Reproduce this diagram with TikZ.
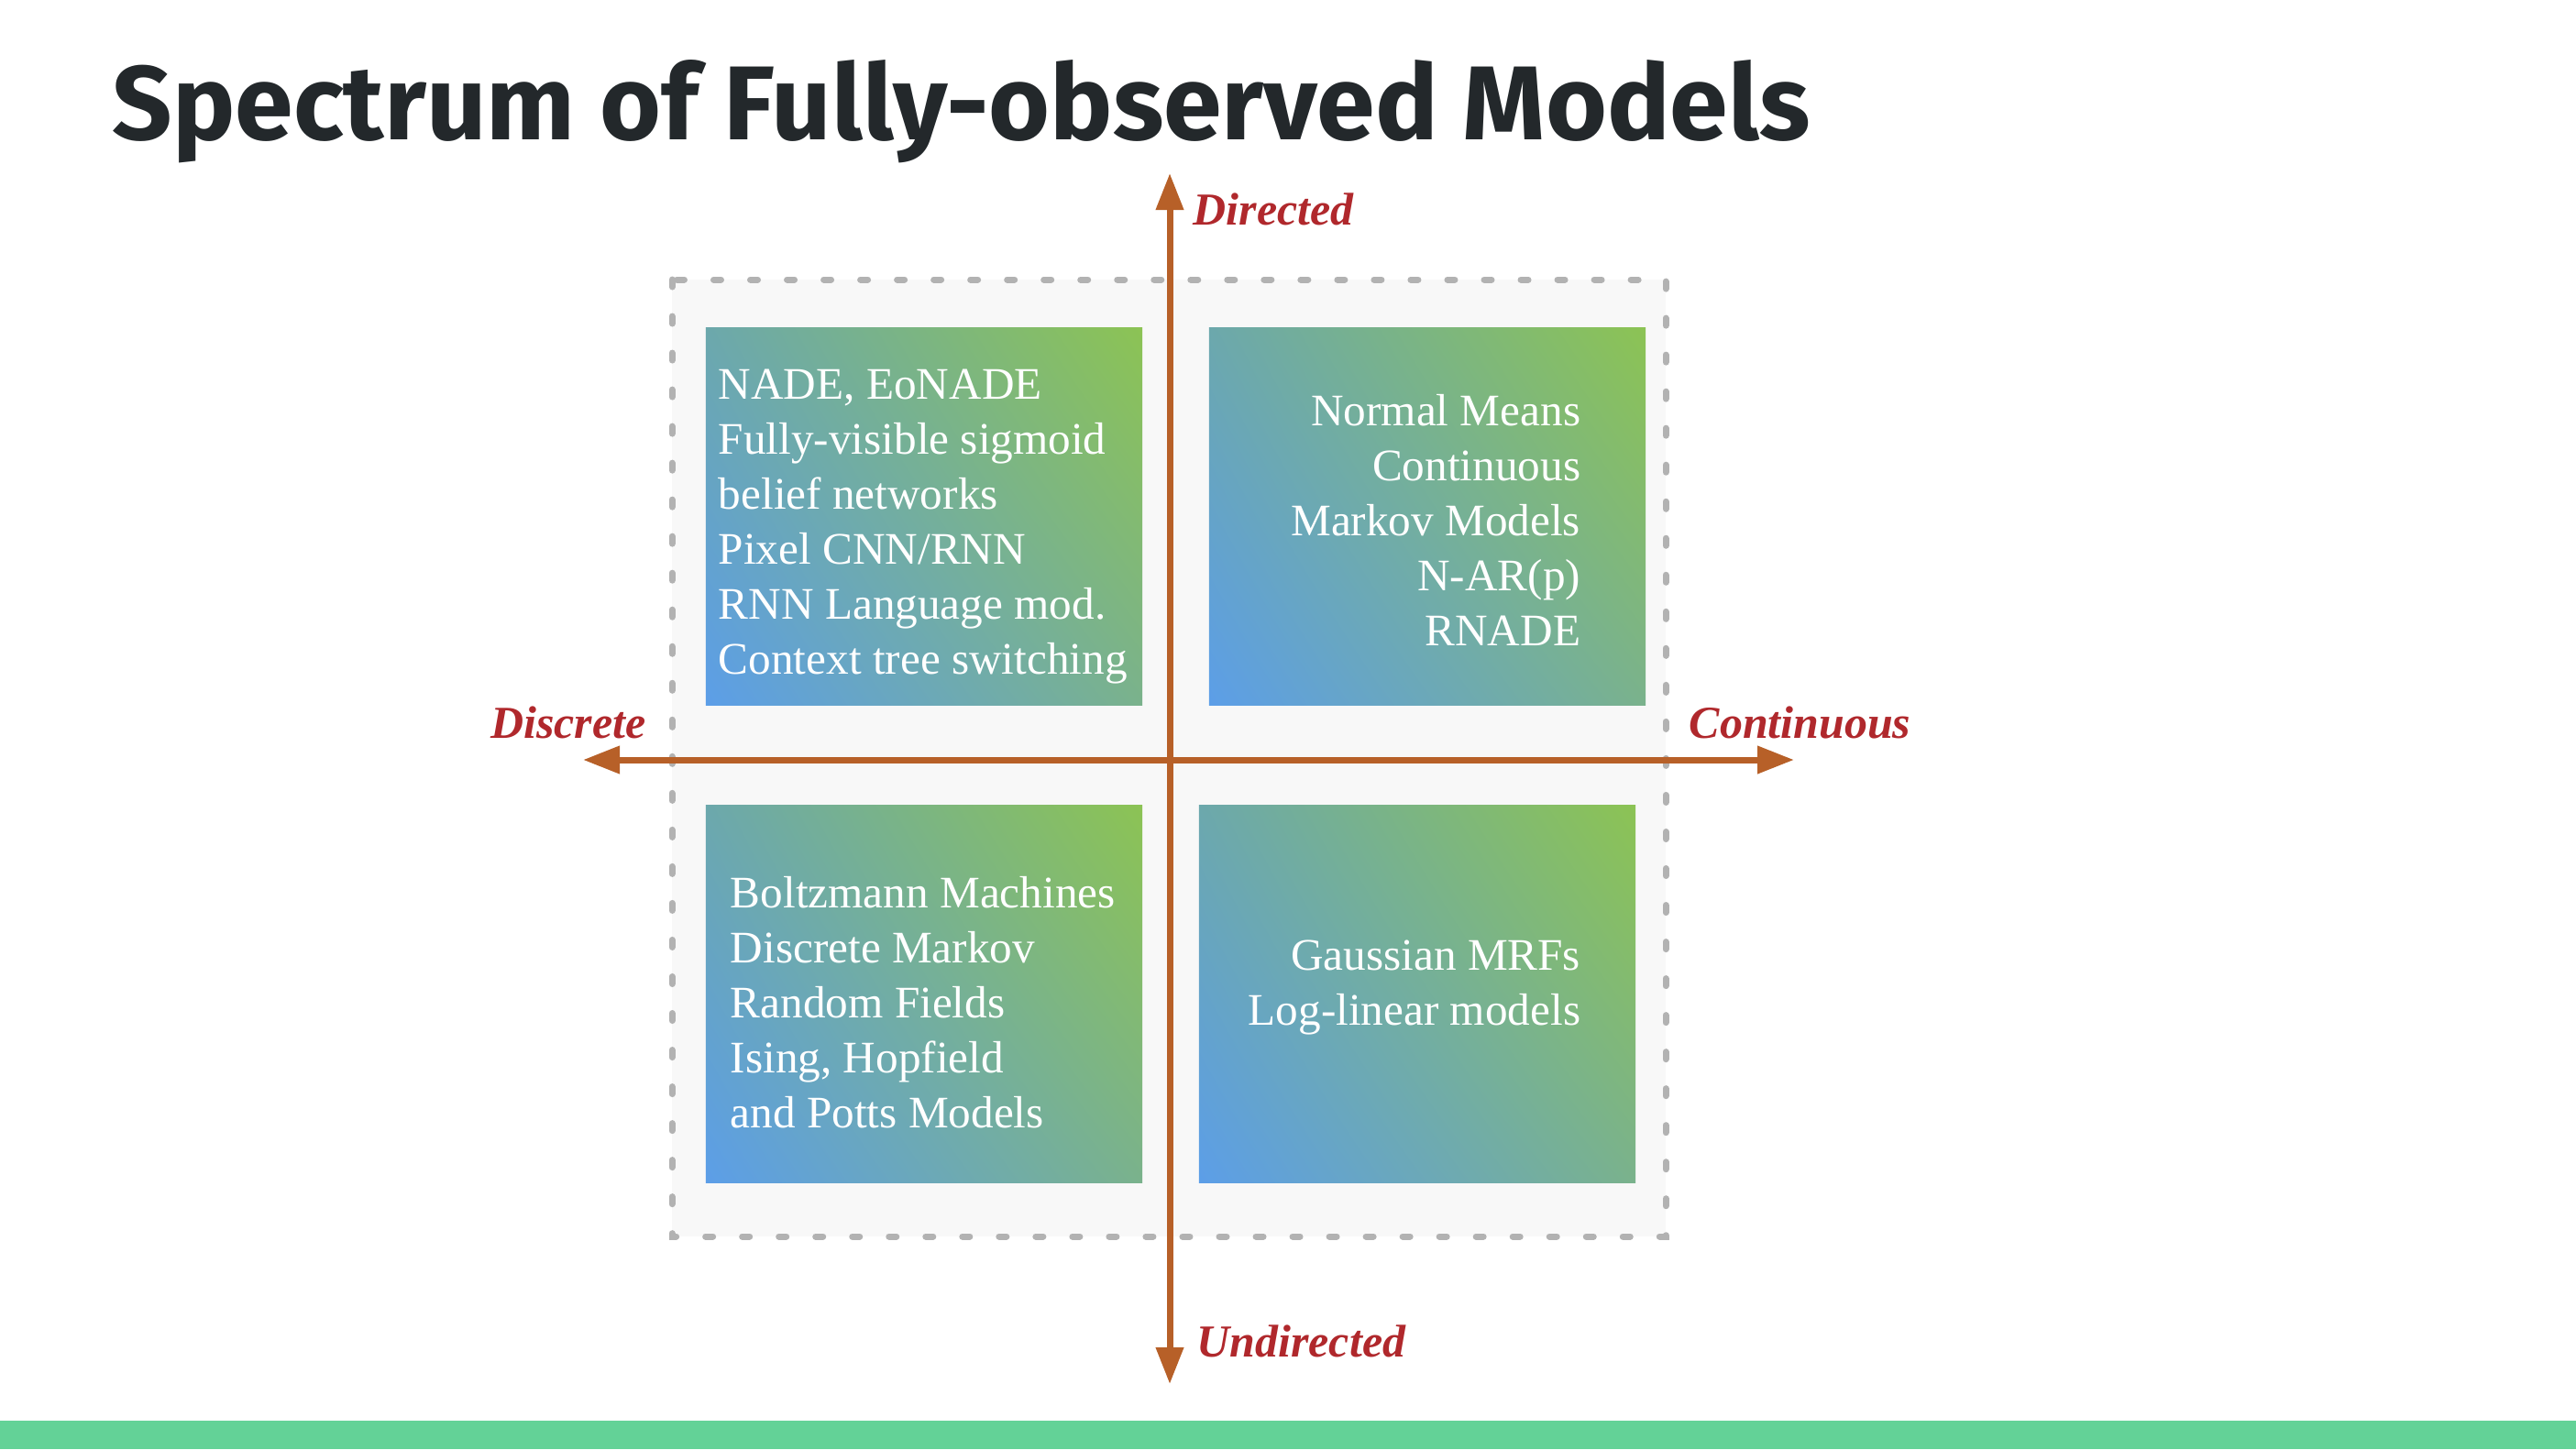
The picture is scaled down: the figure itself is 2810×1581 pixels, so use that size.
\documentclass[tikz,border=0pt]{standalone}
\usepackage{fontspec}
\setmainfont{Liberation Serif}
\newfontfamily\titlefont{Fira Sans}
\usetikzlibrary{positioning}
\usetikzlibrary{calc}
\usetikzlibrary{arrows.meta,shadings}

\definecolor{axisbrown}{RGB}{183,96,40}
\definecolor{labelred}{RGB}{176,40,44}
\definecolor{framegray}{RGB}{178,178,178}
\definecolor{framefill}{RGB}{248,248,248}
\definecolor{titlegray}{RGB}{35,40,43}
\definecolor{barcol}{RGB}{99,210,151}
\definecolor{qblue}{RGB}{92,158,232}
\definecolor{qgreen}{RGB}{140,195,84}
\definecolor{qteal}{RGB}{108,168,172}
\definecolor{qsage}{RGB}{122,178,140}

\begin{document}
\begin{tikzpicture}[x=0.01cm,y=-0.01cm,
  quad/.style={shade,shading=bilinear interpolation,lower left=qblue,upper right=qgreen,
    upper left=qteal,lower right=qsage,minimum width=4.76cm,minimum height=4.12cm,inner sep=0pt},
  quadtext/.style={text=white,font=\fontsize{14}{17.07}\selectfont,inner sep=0pt},
  axis/.style={draw=axisbrown,line width=0.07cm,-{Triangle[length=0.4cm,width=0.29cm]}},
  axlabel/.style={text=labelred,font=\fontsize{14.2}{17}\selectfont\bfseries\itshape,inner sep=0pt}]
\useasboundingbox[fill=white] (0,0) rectangle (2810,1581);

%titel
\node[anchor=base west,inner sep=0pt,text=titlegray,font=\titlefont\fontsize{32.6}{36}\selectfont\bfseries] (title) at (122,152) {Spectrum of Fully-observed Models};

%pasek na dole
\fill[barcol] (0,1550) rectangle (2810,1581);

%ramka
\draw[framegray,fill=framefill,line width=0.07cm,line cap=round,dash pattern=on 0.08cm off 0.32cm]
	(733,305) rectangle (1817,1349);

%cwiartki
\node[quad] (tl) at (1008,563.5) {};
\node[quad] (tr) at (1557,563.5) {};
\node[quad] (bl) at (1008,1084.5) {};
\node[quad] (br) at (1546,1084.5) {};

%tekst (base = ostatnia linia)
\node[quadtext,anchor=base west,align=left] (tltext) at ($(tl.north west)+(14,379)$)
	{NADE, EoNADE\\Fully-visible sigmoid\\belief networks\\Pixel CNN/RNN\\RNN Language mod.\\Context tree switching};
\node[quadtext,anchor=base east,align=right] (trtext) at ($(tr.north east)+(-71,348)$)
	{Normal Means\\Continuous\\Markov Models\\N-AR(p)\\RNADE};
\node[quadtext,anchor=base west,align=left] (bltext) at ($(bl.north west)+(27,353)$)
	{Boltzmann Machines\\Discrete Markov\\Random Fields\\Ising, Hopfield\\and Potts Models};
\node[quadtext,anchor=base east,align=right] (brtext) at ($(br.north east)+(-60,241)$)
	{Gaussian MRFs\\Log-linear models};

%osie
\coordinate (o) at (1276,829);
\coordinate (up) at (1276,189);
\coordinate (down) at (1276,1510);
\coordinate (left) at (636,829);
\coordinate (right) at (1957,829);
\draw[axis] (o) -- (up);
\draw[axis] (o) -- (down);
\draw[axis] (o) -- (left);
\draw[axis] (o) -- (right);

\node[axlabel,anchor=base west] (directed) at ($(up)+(25,56)$) {Directed};
\node[axlabel,anchor=base west] (undirected) at ($(down)+(29,-30)$) {Undirected};
\node[axlabel,anchor=base east] (discrete) at ($(left)+(69,-24)$) {Discrete};
\node[axlabel,anchor=base west] (continuous) at ($(right)+(-115,-24)$) {Continuous};

%koniec
\end{tikzpicture}
\end{document}
